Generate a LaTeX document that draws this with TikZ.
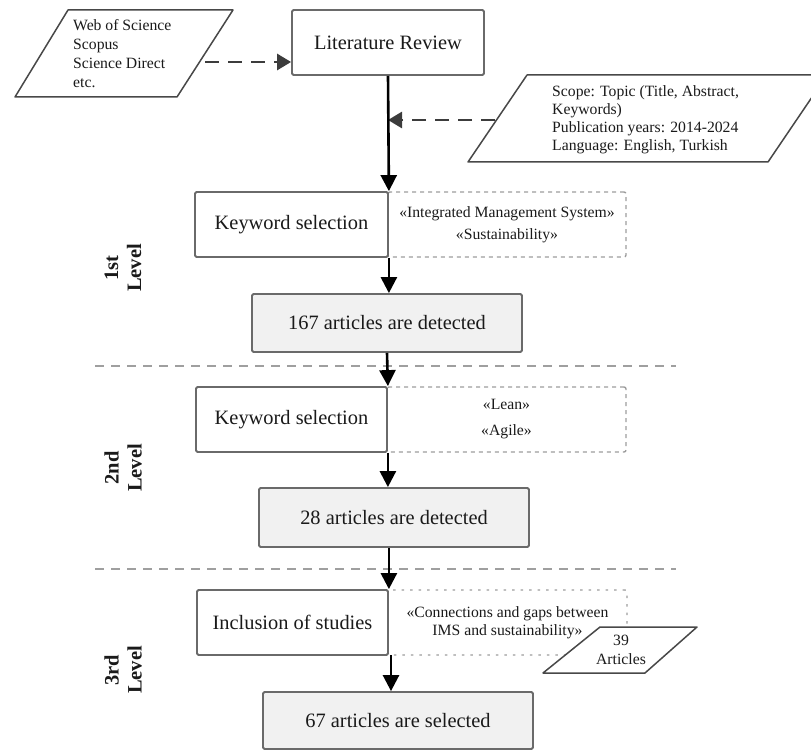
\documentclass[tikz,border=0pt]{standalone}
\usepackage{fontspec}
\setmainfont{Liberation Serif}
\usetikzlibrary{arrows.meta}

\definecolor{boxline}{HTML}{6A6A6A}
\definecolor{boxfill}{HTML}{F1F1F1}
\definecolor{tagline}{HTML}{9C9C9C}
\definecolor{ink}{HTML}{1A1A1A}

\tikzset{
  bigtext/.style={font=\fontsize{20.4}{23}\selectfont, text=ink},
  smalltext/.style={font=\fontsize{15.7}{18.5}\selectfont, text=ink},
  stepbox/.style={draw=boxline, line width=1.8pt, fill=white, rounded corners=1.5pt, inner sep=0pt, bigtext},
  resultbox/.style={stepbox, fill=boxfill},
  tagbox/.style={draw=tagline, line width=1.4pt, dash pattern=on 4pt off 4pt, rounded corners=2pt, inner sep=0pt, smalltext, align=center},
  dottedtag/.style={tagbox, dash pattern=on 2.5pt off 6pt},
  flow/.style={draw=black, line width=2.6pt, -{Triangle[length=16pt,width=16pt]}},
  feed/.style={draw=ink!85, line width=2.8pt, dash pattern=on 14pt off 9pt, -{Triangle[length=14pt,width=16pt]}},
  divider/.style={draw=gray!75, line width=2pt, dash pattern=on 9pt off 7pt},
  inputshape/.style={draw=ink!80, line width=1.5pt, fill=white, line join=round},
  inputtext/.style={inner sep=0pt, align=left, text=ink},
  levellabel/.style={font=\bfseries\fontsize{20.5}{23}\selectfont, text=ink, align=center, rotate=90},
}

\begin{document}
\begin{tikzpicture}[x=1pt, y=-1pt]
\useasboundingbox (0,0) rectangle (811,751);

% level separators
\draw[divider] (95,366) -- (676,366);
\draw[divider] (95,569) -- (676,569);

% level labels
\node[levellabel] (lvl1) at (123,268) {1st\\Level};
\node[levellabel] (lvl2) at (123,468) {2nd\\Level};
\node[levellabel] (lvl3) at (123,670) {3rd\\Level};

% databases
\draw[inputshape] (68,10) -- (233,10) -- (177,97) -- (15,97) -- cycle;
\node[inputtext, anchor=west, font=\fontsize{15.7}{19}\selectfont] (src) at (73,53.5)
  {Web of Science\\Scopus\\Science Direct\\etc.};
\coordinate (srcout) at (205,62);

% search criteria
\draw[inputshape] (527,75) -- (827,75) -- (768,162) -- (468,162) -- cycle;
\node[inputtext, anchor=west, font=\fontsize{15.7}{18}\selectfont] (crit) at (552,120)
  {Scope: Topic (Title, Abstract,\\Keywords)\\Publication years: 2014-2024\\Language: English, Turkish};
\coordinate (critout) at (495,120);

% keyword / criteria boxes (dashed)
\node[tagbox, minimum width=238pt, minimum height=65pt] (tag1) at (507,224.5)
  {«Integrated Management System»\\[3.5pt]«Sustainability»};
\node[tagbox, minimum width=239pt, minimum height=65pt] (tag2) at (506.5,419.5)
  {«Lean»\\[7.5pt]«Agile»};
\node[dottedtag, minimum width=239pt, minimum height=65pt] (tag3) at (507.5,622.5)
  {«Connections and gaps between\\IMS and sustainability»};

% process steps
\node[stepbox, minimum width=192pt, minimum height=65pt] (lit) at (388,42.5) {Literature Review};
\node[stepbox, minimum width=193pt, minimum height=65pt] (kw1) at (291.5,224.5) {Keyword selection};
\node[resultbox, minimum width=270pt, minimum height=58pt] (n167) at (387,323) {167 articles are detected};
\node[stepbox, minimum width=191pt, minimum height=65pt] (kw2) at (291.5,419.5) {Keyword selection};
\node[resultbox, minimum width=270pt, minimum height=59pt] (n28) at (394,517.5) {28 articles are detected};
\node[stepbox, minimum width=191pt, minimum height=65pt] (inc) at (292.5,622.5) {Inclusion of studies};
\node[resultbox, minimum width=270pt, minimum height=57pt] (n67) at (398,720.5) {67 articles are selected};

% added articles
\draw[inputshape] (600,627) -- (697,627) -- (645,673) -- (543,673) -- cycle;
\node[inputtext, align=center, font=\fontsize{15.7}{19}\selectfont] (extra) at (621,650) {39\\Articles};

% connectors
\draw[feed] (srcout) -- (srcout -| lit.west);
\draw[feed] (critout) -- (critout -| lit.south);
\draw[flow] (lit.south) -- (kw1.north east);
\draw[flow] (kw1.south east) -- (kw1.south east |- n167.north);
\draw[flow] (n167.south) -- (kw2.north east);
\draw[flow] (kw2.south east) -- (kw2.south east |- n28.north);
\draw[flow] (inc.north east |- n28.south) -- (inc.north east);
\coordinate (incout) at (391,655);
\draw[flow] (incout) -- (incout |- n67.north);
\end{tikzpicture}
\end{document}
